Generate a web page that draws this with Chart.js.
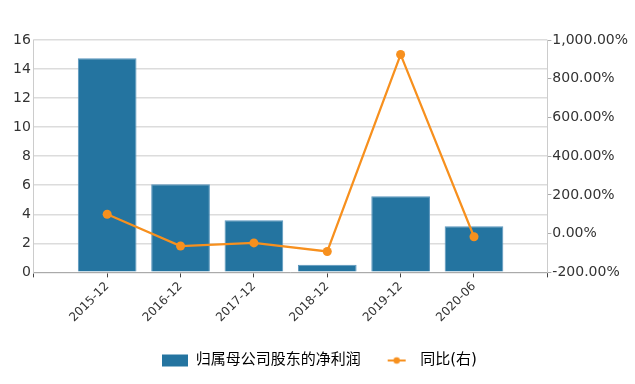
<!DOCTYPE html>
<html><head><meta charset="utf-8">
<script src="https://cdn.jsdelivr.net/npm/chart.js@4.4.0/dist/chart.umd.min.js"></script>
<style>html,body{margin:0;padding:0;background:#fff}#w{width:635px;height:384px}</style>
</head><body><div id="w"><canvas id="c"></canvas></div>
<script>
const categories = ['2015-12','2016-12','2017-12','2018-12','2019-12','2020-06'];
const profitValues = [14.75, 6.06, 3.59, 0.53, 5.24, 3.18];
const yoyValues = [100, -64, -48, -92, 925, -16];
const leftTicks = [0,2,4,6,8,10,12,14,16];
const rightTicks = [-200,0,200,400,600,800,1000];

const BLUE = '#2474a0';
const ORANGE = '#f7901e';
const FONT = "'DejaVu Sans','Noto Sans CJK SC',sans-serif";

// axis padded with one empty slot on each side
const labels = [''].concat(categories, ['']);
const pad = arr => [null].concat(arr, [null]);

function mkIcon(kind){
  const c = document.createElement('canvas');
  c.width = 26; c.height = 14;
  const g = c.getContext('2d');
  if(kind==='bar'){ g.fillStyle = BLUE; g.fillRect(0,1,26,12); }
  else {
    g.strokeStyle = ORANGE; g.lineWidth = 2;
    g.beginPath(); g.moveTo(1,7); g.lineTo(19,7); g.stroke();
    g.fillStyle = ORANGE; g.beginPath(); g.arc(10,7,3.2,0,Math.PI*2); g.fill();
  }
  return c;
}
const icons = [mkIcon('bar'), mkIcon('line')];

function fmtPct(v){
  return v.toLocaleString('en-US',{minimumFractionDigits:2,maximumFractionDigits:2}) + '%';
}

new Chart(document.getElementById('c'), {
  data: {
    labels: labels,
    datasets: [
      { type:'line', label:'同比(右)', data: pad(yoyValues), yAxisID:'y1',
        borderColor: ORANGE, backgroundColor: ORANGE, borderWidth: 2.2,
        pointRadius: 4.5, pointBackgroundColor: ORANGE, pointBorderWidth: 0,
        tension: 0, order: 0 },
      { type:'bar', label:'归属母公司股东的净利润', data: pad(profitValues), yAxisID:'y',
        backgroundColor: BLUE, borderColor: '#5a96bd', borderWidth: 1,
        barPercentage: 0.8, categoryPercentage: 1.0, order: 1 }
    ]
  },
  options: {
    responsive: true, maintainAspectRatio: false, animation: false,
    layout: { padding: { top: 40, right: 6, left: 10, bottom: 6 } },
    plugins: {
      tooltip: { enabled: false },
      legend: {
        position: 'bottom',
        labels: {
          usePointStyle: true, pointStyleWidth: 26, padding: 26,
          color: '#333', font: { family: FONT, size: 15 },
          generateLabels(chart){
            const ds = chart.data.datasets;
            return [
              { text: ds[1].label, pointStyle: icons[0], datasetIndex: 1, fillStyle: BLUE, strokeStyle: BLUE, lineWidth: 0 },
              { text: ds[0].label, pointStyle: icons[1], datasetIndex: 0, fillStyle: ORANGE, strokeStyle: ORANGE, lineWidth: 0 }
            ];
          }
        }
      }
    },
    scales: {
      x: {
        offset: false,
        grid: { drawOnChartArea: false, offset: false, tickLength: 5, color: '#444' },
        border: { color: '#aaa' },
        ticks: { minRotation: 45, maxRotation: 45, color: '#333', font: { family: FONT, size: 12 }, padding: 2, autoSkip: false }
      },
      y: {
        position: 'left', min: 0, max: 16,
        afterBuildTicks(s){ s.ticks = leftTicks.map(v=>({value:v})); },
        grid: { color: '#dcdcdc', lineWidth: 1.5, tickLength: 0 },
        border: { color: '#ccc' },
        ticks: { color: '#333', font: { family: FONT, size: 14 }, padding: 3 }
      },
      y1: {
        position: 'right', min: -200, max: 1000,
        afterBuildTicks(s){ s.ticks = rightTicks.map(v=>({value:v})); },
        grid: { drawOnChartArea: false, tickLength: 4, color: '#aaa' },
        border: { color: '#ccc' },
        ticks: { color: '#333', font: { family: FONT, size: 14 }, padding: 1, callback: v => fmtPct(v) }
      }
    }
  }
});
</script></body></html>
